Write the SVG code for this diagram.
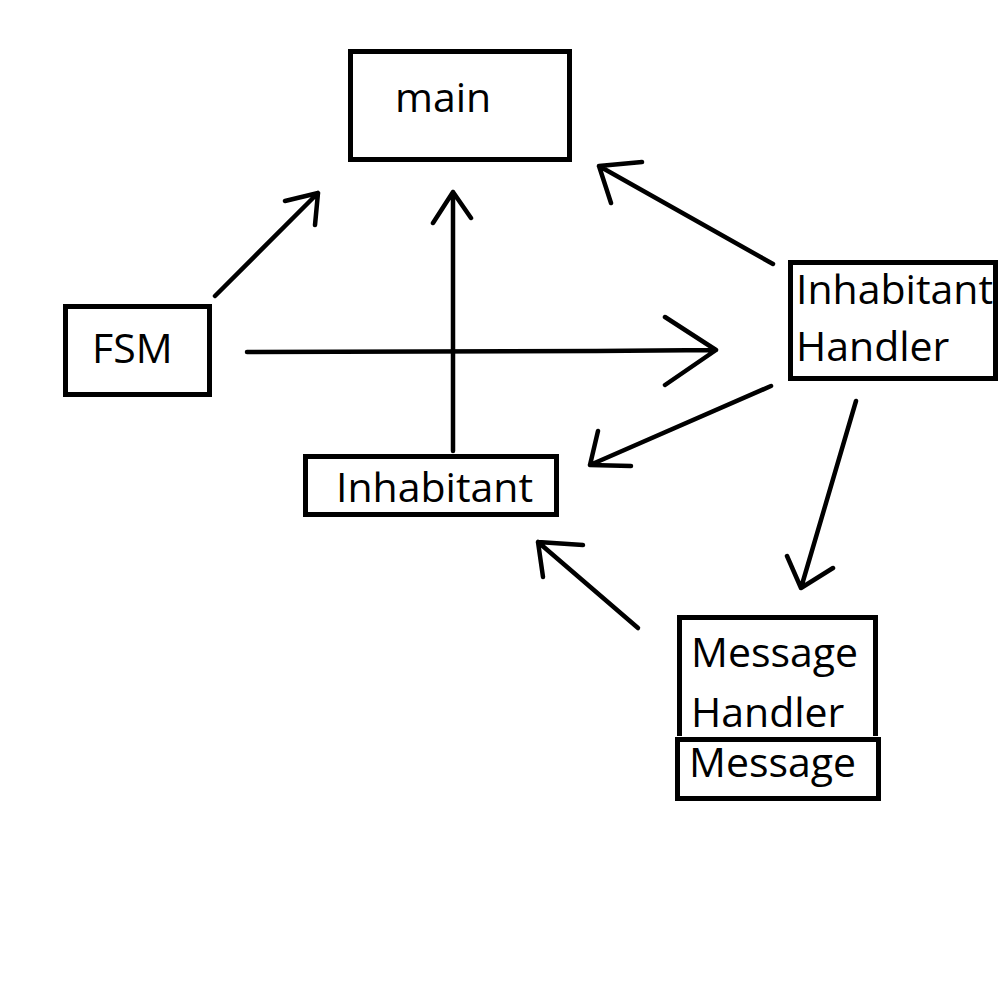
<svg xmlns="http://www.w3.org/2000/svg" width="1000" height="1000" viewBox="0 0 1000 1000">
<style>
.box{fill:none;stroke:#000;stroke-width:5}
.lbl{font-family:"Open Sans","Noto Sans","DejaVu Sans",sans-serif;font-size:41px;fill:#000}
.c{fill:none;stroke:#000;stroke-width:4.5;stroke-linecap:round;stroke-linejoin:round}
</style>
<rect width="1000" height="1000" fill="#fff"/>
<g id="connectors">
<path class="c" d="M215,296 L318,193 M285,201 L318,193 L315,225"/>
<path class="c" d="M247,352 L597,351 L716,350 M665,317 L716,350 L665,385"/>
<path class="c" d="M773,264 L599,166 M642,162 L599,166 L611,203"/>
<path class="c" d="M771,386 L590,465 M598,431 L590,465 L631,466"/>
<path class="c" d="M453,451 L453,192 M433,223 L453,192 L471,218"/>
<path class="c" d="M638,628 L538,542 M583,545 L538,542 L543,577"/>
<path class="c" d="M856,401 L801,588 M787,556 L801,588 L833,568"/>
</g>
<g id="main">
<rect class="box" x="350.5" y="51.5" width="219" height="108"/>
<text class="lbl" x="395" y="112">main</text>
</g>
<g id="fsm">
<rect class="box" x="65.5" y="306.5" width="144" height="88"/>
<text class="lbl" x="92" y="363">FSM</text>
</g>
<g id="inhabitant-handler">
<rect class="box" x="790.5" y="262.5" width="205" height="116"/>
<text class="lbl" x="796" y="304">Inhabitant</text>
<text class="lbl" x="796" y="361">Handler</text>
</g>
<g id="inhabitant">
<rect class="box" x="305.5" y="456.5" width="251" height="58"/>
<text class="lbl" x="336" y="502">Inhabitant</text>
</g>
<g id="message-handler">
<path class="box" d="M679.5,736 V617.5 H875.5 V736"/>
<text class="lbl" x="691" y="667">Message</text>
<text class="lbl" x="691" y="727">Handler</text>
</g>
<g id="message">
<rect class="box" x="677.5" y="739.5" width="201" height="59"/>
<text class="lbl" x="689" y="777">Message</text>
</g>
</svg>
